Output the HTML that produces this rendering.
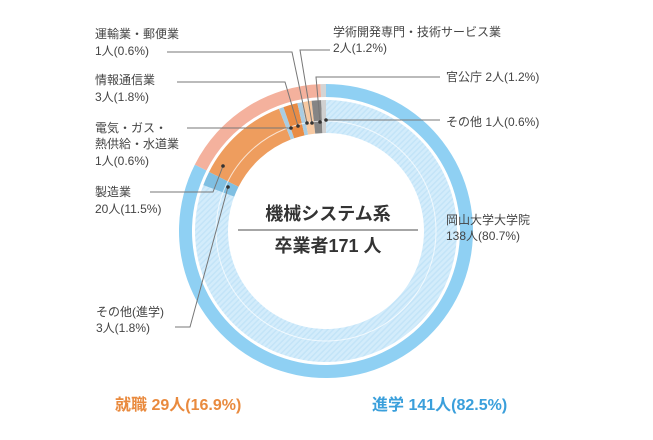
<!DOCTYPE html>
<html><head><meta charset="utf-8"><style>
body{margin:0;background:#fff;}
svg text{font-family:"Liberation Sans","Noto Sans CJK JP",sans-serif;fill:#444;font-size:12px;}
</style></head><body>
<svg id="s" width="653" height="435" viewBox="0 0 653 435" xmlns="http://www.w3.org/2000/svg">
<defs>
<pattern id="h" width="4" height="4" patternUnits="userSpaceOnUse" patternTransform="rotate(45)">
<rect width="4" height="4" fill="#d3ecfb"/><rect width="1.5" height="4" fill="#c3e4f8"/>
</pattern>
</defs>
<g id="ring"></g>
<g stroke="#777" stroke-width="1" fill="none">
<polyline points="167,52 292,52 307,123"/>
<polyline points="330,50 300,50 312,123"/>
<polyline points="177,82 285,82 298,126"/>
<polyline points="187,128 291,128"/>
<polyline points="150,192 213,192 223,166"/>
<polyline points="175,327 190,327 228,187"/>
<polyline points="440,77 316,77 320,122"/>
<polyline points="440,120 326,120"/>
</g>
<g fill="#333">
<circle cx="307" cy="123" r="1.8"/><circle cx="312" cy="123" r="1.8"/><circle cx="298" cy="126" r="1.8"/>
<circle cx="291" cy="128" r="1.8"/><circle cx="223" cy="166" r="1.8"/><circle cx="228" cy="187" r="1.8"/>
<circle cx="320" cy="122" r="1.8"/><circle cx="326" cy="120" r="1.8"/>
</g>
<text x="95" y="38">運輸業・郵便業</text><text x="95" y="55">1人(0.6%)</text>
<text x="95" y="84">情報通信業</text><text x="95" y="101">3人(1.8%)</text>
<text x="95" y="132">電気・ガス・</text><text x="95" y="148">熱供給・水道業</text><text x="95" y="165">1人(0.6%)</text>
<text x="95" y="196">製造業</text><text x="95" y="213">20人(11.5%)</text>
<text x="96" y="316">その他(進学)</text><text x="96" y="332">3人(1.8%)</text>
<text x="333" y="36">学術開発専門・技術サービス業</text><text x="333" y="52">2人(1.2%)</text>
<text x="446" y="81">官公庁 2人(1.2%)</text>
<text x="446" y="126">その他 1人(0.6%)</text>
<text x="446" y="224">岡山大学大学院</text><text x="446" y="240">138人(80.7%)</text>
<text x="328" y="220" text-anchor="middle" style="font-size:18px;font-weight:bold;fill:#333">機械システム系</text>
<line x1="238" y1="230" x2="418" y2="230" stroke="#888" stroke-width="1.5"/>
<text x="328" y="252" text-anchor="middle" style="font-size:18px;font-weight:bold;fill:#333">卒業者171 人</text>
<text x="115" y="410" style="font-size:16px;font-weight:bold;fill:#e98a3e">就職 29人(16.9%)</text>
<text x="372" y="410" style="font-size:16px;font-weight:bold;fill:#3a9fdb">進学 141人(82.5%)</text>
</svg>
<script>
var cx=326,cy=231;
function arc(r1,r2,a0,a1,fill){
 function p(r,a){a=(a-90)*Math.PI/180;return (cx+r*Math.cos(a)).toFixed(2)+","+(cy+r*Math.sin(a)).toFixed(2);}
 var l=(a1-a0)>180?1:0;
 return '<path d="M'+p(r2,a0)+' A'+r2+','+r2+' 0 '+l+' 1 '+p(r2,a1)+' L'+p(r1,a1)+' A'+r1+','+r1+' 0 '+l+' 0 '+p(r1,a0)+'Z" fill="'+fill+'"/>';
}
var out="",a=0;
[[141,"#8fd0f3"],[29,"#f4b19d"],[1,"#d4d4d4"]].forEach(function(s){var b=a+s[0]/171*360;out+=arc(134,147,a,b,s[1]);a=b;});
a=0;
[[138,"url(#h)"],[3,"#7fbfe2"],[20,"#ee9d5e"],[1,"#a9cde3"],[3,"#e98c45"],[1,"#a9cde3"],[2,"#f7c9a2"],[2,"#858585"],[1,"#d0d0d0"]].forEach(function(s){var b=a+s[0]/171*360;out+=arc(98,131,a,b,s[1]);a=b;});
out+='<circle cx="'+cx+'" cy="'+cy+'" r="110" fill="none" stroke="#fff" stroke-width="1" opacity="0.7"/>';
document.getElementById("ring").innerHTML=out;
</script>
</body></html>
